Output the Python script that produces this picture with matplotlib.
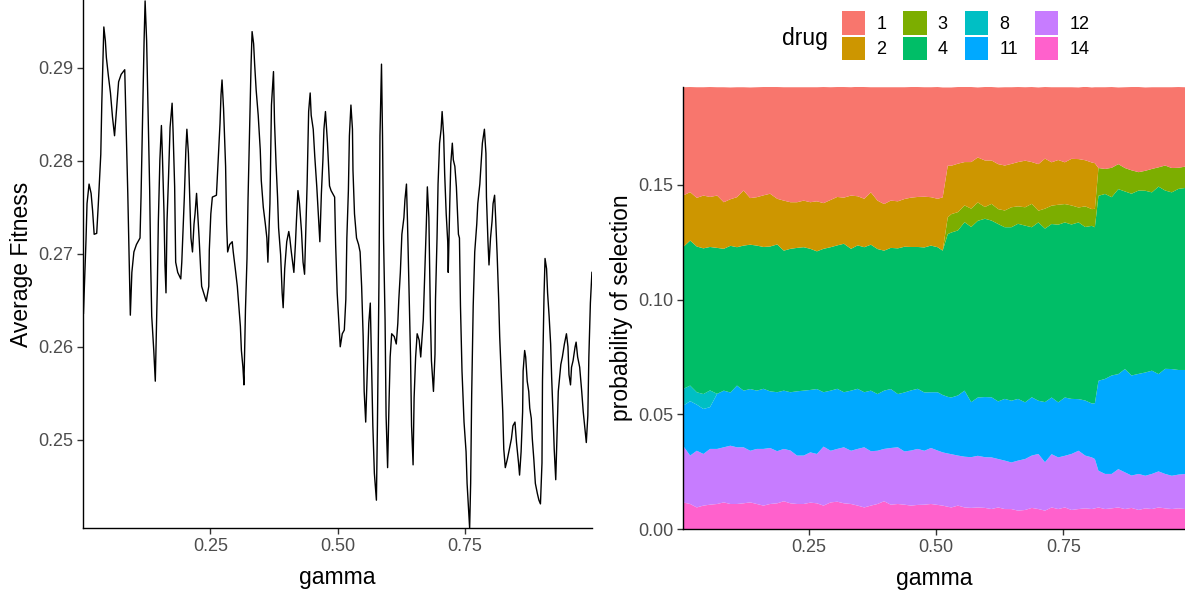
import matplotlib
matplotlib.use("Agg")
import matplotlib.pyplot as plt
from matplotlib.patches import Patch

plt.rcParams['font.family'] = ['Liberation Sans', 'DejaVu Sans']

# average fitness along gamma
gamma_fit = [
    0.001, 0.006, 0.008, 0.012, 0.016, 0.019, 0.022, 0.027, 0.030, 0.035, 0.037, 0.041, 0.044, 0.046,
    0.050, 0.054, 0.058, 0.062, 0.066, 0.070, 0.075, 0.082, 0.084, 0.088, 0.091, 0.093, 0.096, 0.100,
    0.105, 0.112, 0.114, 0.117, 0.120, 0.122, 0.125, 0.128, 0.131, 0.133, 0.135, 0.139, 0.142, 0.146,
    0.148, 0.151, 0.154, 0.156, 0.159, 0.161, 0.163, 0.165, 0.168, 0.171, 0.175, 0.177, 0.180, 0.182,
    0.186, 0.192, 0.194, 0.197, 0.199, 0.202, 0.204, 0.207, 0.210, 0.212, 0.215, 0.218, 0.220, 0.223,
    0.225, 0.228, 0.231, 0.233, 0.237, 0.242,
    0.247, 0.248, 0.251, 0.254, 0.262, 0.266, 0.269, 0.271, 0.273, 0.276, 0.280, 0.282, 0.284, 0.288,
    0.293, 0.295, 0.299, 0.303, 0.306, 0.309, 0.311, 0.314, 0.316, 0.319, 0.322, 0.324, 0.327, 0.330,
    0.332, 0.335, 0.337, 0.340, 0.344, 0.348, 0.350, 0.354, 0.358, 0.361, 0.363, 0.367, 0.370, 0.374,
    0.376, 0.379, 0.382, 0.384, 0.388, 0.391, 0.393, 0.396, 0.400, 0.404, 0.406, 0.409, 0.412, 0.414,
    0.417, 0.419, 0.422, 0.425, 0.429, 0.432, 0.435, 0.438, 0.440, 0.443, 0.446, 0.448, 0.452, 0.455,
    0.459, 0.463, 0.465, 0.468, 0.471, 0.473, 0.476, 0.480, 0.484, 0.487,
    0.494, 0.496, 0.499, 0.503, 0.505, 0.509, 0.513, 0.516, 0.518, 0.521, 0.523, 0.526, 0.529, 0.530,
    0.533, 0.537, 0.541, 0.544, 0.547, 0.550, 0.552, 0.555, 0.559, 0.561, 0.564, 0.567, 0.569, 0.572,
    0.576, 0.578, 0.581, 0.583, 0.586, 0.588, 0.590, 0.593, 0.595, 0.598, 0.601, 0.603, 0.606, 0.611,
    0.615, 0.618, 0.620, 0.623, 0.626, 0.630, 0.632, 0.635, 0.637, 0.640, 0.643, 0.645, 0.648, 0.650,
    0.653, 0.656, 0.660, 0.663, 0.666, 0.668, 0.671, 0.674, 0.676, 0.679, 0.682, 0.684, 0.688, 0.691,
    0.692, 0.695, 0.697, 0.700, 0.703, 0.705, 0.708, 0.710, 0.713, 0.716, 0.717, 0.720, 0.722, 0.725,
    0.727, 0.730, 0.733, 0.737,
    0.739, 0.741, 0.744, 0.748, 0.752, 0.754, 0.757, 0.759, 0.761, 0.763, 0.766, 0.769, 0.773, 0.775,
    0.779, 0.782, 0.784, 0.788, 0.791, 0.792, 0.795, 0.797, 0.800, 0.803, 0.805, 0.808, 0.810, 0.813,
    0.816, 0.818, 0.821, 0.824, 0.826, 0.829, 0.833, 0.837, 0.841, 0.844, 0.848, 0.851, 0.855, 0.857,
    0.860, 0.863, 0.864, 0.867, 0.869, 0.872, 0.875, 0.877, 0.880, 0.882, 0.885, 0.888, 0.892, 0.895,
    0.898, 0.901, 0.902, 0.905, 0.907, 0.910, 0.912, 0.915, 0.918, 0.920, 0.923, 0.925, 0.928, 0.931,
    0.933, 0.936, 0.938, 0.941, 0.945, 0.949, 0.952, 0.954, 0.957, 0.959, 0.962, 0.966, 0.968, 0.971,
    0.975, 0.979, 0.982, 0.986, 0.988, 0.991, 0.993, 0.996, 0.999,
]
fitness = [
    0.2636, 0.2715, 0.2754, 0.2775, 0.2765, 0.2746, 0.2721, 0.2722, 0.2752, 0.2807, 0.2862, 0.2944, 0.2929, 0.2911,
    0.2891, 0.2873, 0.2847, 0.2827, 0.2856, 0.2885, 0.2893, 0.2898, 0.2853, 0.2765, 0.2688, 0.2634, 0.2680, 0.2702,
    0.2710, 0.2717, 0.2761, 0.2845, 0.2929, 0.2972, 0.2929, 0.2849, 0.2768, 0.2688, 0.2633, 0.2596, 0.2563, 0.2665,
    0.2735, 0.2801, 0.2838, 0.2805, 0.2746, 0.2688, 0.2658, 0.2735, 0.2783, 0.2836, 0.2862, 0.2830, 0.2772, 0.2691,
    0.2680, 0.2673, 0.2691, 0.2732, 0.2761, 0.2812, 0.2834, 0.2808, 0.2754, 0.2717, 0.2702, 0.2732, 0.2743, 0.2765,
    0.2746, 0.2717, 0.2684, 0.2665, 0.2658, 0.2649,
    0.2665, 0.2704, 0.2743, 0.2761, 0.2763, 0.2808, 0.2840, 0.2871, 0.2887, 0.2856, 0.2794, 0.2732, 0.2702, 0.2710,
    0.2713, 0.2702, 0.2684, 0.2665, 0.2644, 0.2622, 0.2596, 0.2578, 0.2559, 0.2640, 0.2695, 0.2758, 0.2830, 0.2904,
    0.2939, 0.2926, 0.2904, 0.2876, 0.2849, 0.2812, 0.2779, 0.2750, 0.2732, 0.2717, 0.2691, 0.2754, 0.2860, 0.2896,
    0.2842, 0.2797, 0.2761, 0.2728, 0.2699, 0.2658, 0.2642, 0.2684, 0.2713, 0.2724, 0.2717, 0.2702, 0.2689, 0.2680,
    0.2710, 0.2735, 0.2768, 0.2754, 0.2724, 0.2691, 0.2678, 0.2735, 0.2775, 0.2853, 0.2873, 0.2849, 0.2834, 0.2805,
    0.2772, 0.2732, 0.2713, 0.2765, 0.2801, 0.2834, 0.2853, 0.2819, 0.2773, 0.2768,
    0.2761, 0.2710, 0.2658, 0.2618, 0.2600, 0.2614, 0.2618, 0.2651, 0.2717, 0.2768, 0.2827, 0.2860, 0.2834, 0.2790,
    0.2743, 0.2717, 0.2710, 0.2702, 0.2665, 0.2611, 0.2552, 0.2519, 0.2589, 0.2625, 0.2647, 0.2570, 0.2515, 0.2464,
    0.2435, 0.2515, 0.2669, 0.2827, 0.2904, 0.2827, 0.2717, 0.2629, 0.2526, 0.2470, 0.2545, 0.2589, 0.2614, 0.2611,
    0.2603, 0.2625, 0.2651, 0.2680, 0.2721, 0.2739, 0.2758, 0.2775, 0.2735, 0.2662, 0.2589, 0.2515, 0.2473, 0.2545,
    0.2589, 0.2614, 0.2607, 0.2589, 0.2614, 0.2629, 0.2680, 0.2732, 0.2772, 0.2739, 0.2633, 0.2585, 0.2552, 0.2592,
    0.2651, 0.2717, 0.2775, 0.2819, 0.2834, 0.2853, 0.2827, 0.2786, 0.2743, 0.2713, 0.2680, 0.2754, 0.2797, 0.2819,
    0.2801, 0.2794, 0.2772, 0.2721,
    0.2717, 0.2644, 0.2574, 0.2519, 0.2487, 0.2453, 0.2424, 0.2405, 0.2453, 0.2548, 0.2644, 0.2702, 0.2732, 0.2754,
    0.2775, 0.2801, 0.2819, 0.2834, 0.2808, 0.2761, 0.2713, 0.2688, 0.2717, 0.2735, 0.2754, 0.2763, 0.2739, 0.2699,
    0.2651, 0.2611, 0.2570, 0.2530, 0.2490, 0.2470, 0.2479, 0.2490, 0.2501, 0.2515, 0.2519, 0.2497, 0.2475, 0.2462,
    0.2487, 0.2530, 0.2574, 0.2596, 0.2589, 0.2563, 0.2552, 0.2534, 0.2523, 0.2501, 0.2479, 0.2453, 0.2442, 0.2435,
    0.2431, 0.2475, 0.2563, 0.2655, 0.2695, 0.2684, 0.2658, 0.2633, 0.2603, 0.2567, 0.2523, 0.2490, 0.2457, 0.2515,
    0.2552, 0.2570, 0.2581, 0.2589, 0.2603, 0.2614, 0.2600, 0.2570, 0.2559, 0.2578, 0.2585, 0.2600, 0.2605, 0.2589,
    0.2578, 0.2552, 0.2530, 0.2508, 0.2497, 0.2526, 0.2589, 0.2647, 0.2680,
]

# probability of selection per drug
gamma_sel = [
    0.003, 0.017, 0.030, 0.043, 0.056, 0.070, 0.083, 0.096, 0.109, 0.122, 0.135, 0.148, 0.161,
    0.174, 0.188, 0.201, 0.214, 0.227, 0.240, 0.253, 0.266, 0.279, 0.293, 0.306, 0.319,
    0.333, 0.346, 0.359, 0.372, 0.385, 0.398, 0.411, 0.425, 0.438, 0.451, 0.464, 0.477, 0.490,
    0.503, 0.513, 0.523, 0.530, 0.543, 0.556, 0.569, 0.582, 0.596, 0.609, 0.622, 0.635,
    0.648, 0.661, 0.675, 0.688, 0.701, 0.714, 0.727, 0.740, 0.753, 0.766, 0.780, 0.793, 0.806,
    0.812, 0.819, 0.832, 0.845, 0.858, 0.871, 0.884, 0.898, 0.911, 0.924, 0.937, 0.950, 0.963,
    0.976, 0.989,
]
drug_1 = [
    0.0472, 0.0458, 0.0482, 0.0472, 0.0479, 0.0472, 0.0501, 0.0487, 0.0479, 0.0450, 0.0482, 0.0479, 0.0472,
    0.0465, 0.0487, 0.0494, 0.0501, 0.0501, 0.0494, 0.0501, 0.0497, 0.0506, 0.0491, 0.0479, 0.0482,
    0.0472, 0.0477, 0.0487, 0.0458, 0.0494, 0.0509, 0.0494, 0.0497, 0.0487, 0.0482, 0.0479, 0.0477, 0.0479,
    0.0487, 0.0479, 0.0341, 0.0341, 0.0334, 0.0327, 0.0327, 0.0305, 0.0320, 0.0320, 0.0334, 0.0341,
    0.0334, 0.0327, 0.0320, 0.0327, 0.0334, 0.0312, 0.0327, 0.0317, 0.0327, 0.0312, 0.0312, 0.0320, 0.0327,
    0.0331, 0.0352, 0.0356, 0.0352, 0.0334, 0.0352, 0.0363, 0.0371, 0.0363, 0.0356, 0.0349, 0.0341, 0.0352,
    0.0352, 0.0346,
]
drug_2 = [
    0.0225, 0.0211, 0.0212, 0.0230, 0.0218, 0.0228, 0.0203, 0.0203, 0.0218, 0.0240, 0.0203, 0.0211, 0.0225,
    0.0230, 0.0199, 0.0218, 0.0203, 0.0199, 0.0203, 0.0203, 0.0218, 0.0199, 0.0206, 0.0211, 0.0201,
    0.0232, 0.0214, 0.0211, 0.0228, 0.0211, 0.0203, 0.0206, 0.0205, 0.0208, 0.0215, 0.0218, 0.0221, 0.0211,
    0.0211, 0.0232, 0.0225, 0.0211, 0.0211, 0.0189, 0.0203, 0.0196, 0.0203, 0.0189, 0.0196, 0.0196,
    0.0189, 0.0193, 0.0203, 0.0182, 0.0203, 0.0218, 0.0189, 0.0195, 0.0182, 0.0203, 0.0211, 0.0201, 0.0203,
    0.0199, 0.0, 0.0, 0.0, 0.0, 0.0, 0.0, 0.0, 0.0, 0.0, 0.0, 0.0, 0.0,
    0.0, 0.0,
]
drug_3 = [
    0.0, 0.0, 0.0, 0.0, 0.0, 0.0, 0.0, 0.0, 0.0, 0.0, 0.0, 0.0, 0.0,
    0.0, 0.0, 0.0, 0.0, 0.0, 0.0, 0.0, 0.0, 0.0, 0.0, 0.0, 0.0,
    0.0, 0.0, 0.0, 0.0, 0.0, 0.0, 0.0, 0.0, 0.0, 0.0, 0.0, 0.0, 0.0,
    0.0, 0.0, 0.0073, 0.0080, 0.0080, 0.0073, 0.0080, 0.0080, 0.0051, 0.0073, 0.0065, 0.0073,
    0.0087, 0.0076, 0.0080, 0.0102, 0.0051, 0.0087, 0.0080, 0.0087, 0.0080, 0.0083, 0.0065, 0.0090, 0.0073,
    0.0080, 0.0121, 0.0109, 0.0128, 0.0109, 0.0102, 0.0102, 0.0080, 0.0087, 0.0102, 0.0084, 0.0109, 0.0106,
    0.0092, 0.0093,
]
drug_4 = [
    0.0618, 0.0632, 0.0635, 0.0635, 0.0625, 0.0636, 0.0618, 0.0639, 0.0603, 0.0632, 0.0629, 0.0632, 0.0618,
    0.0631, 0.0644, 0.0610, 0.0625, 0.0625, 0.0625, 0.0615, 0.0600, 0.0625, 0.0625, 0.0625, 0.0647,
    0.0618, 0.0625, 0.0632, 0.0636, 0.0632, 0.0610, 0.0615, 0.0635, 0.0635, 0.0625, 0.0618, 0.0632, 0.0639,
    0.0632, 0.0629, 0.0709, 0.0719, 0.0719, 0.0734, 0.0763, 0.0770, 0.0777, 0.0770, 0.0773, 0.0748,
    0.0756, 0.0763, 0.0770, 0.0741, 0.0777, 0.0756, 0.0756, 0.0774, 0.0763, 0.0760, 0.0770, 0.0756, 0.0774,
    0.0767, 0.0806, 0.0806, 0.0777, 0.0806, 0.0774, 0.0792, 0.0799, 0.0792, 0.0777, 0.0817, 0.0777, 0.0770,
    0.0789, 0.0793,
]
drug_8 = [
    0.0073, 0.0068, 0.0054, 0.0065, 0.0073, 0.0, 0.0, 0.0, 0.0, 0.0, 0.0, 0.0, 0.0,
    0.0, 0.0, 0.0, 0.0, 0.0, 0.0, 0.0, 0.0, 0.0, 0.0, 0.0, 0.0,
    0.0, 0.0, 0.0, 0.0, 0.0, 0.0, 0.0, 0.0, 0.0, 0.0, 0.0, 0.0, 0.0,
    0.0, 0.0, 0.0, 0.0, 0.0, 0.0, 0.0, 0.0, 0.0, 0.0, 0.0, 0.0,
    0.0, 0.0, 0.0, 0.0, 0.0, 0.0, 0.0, 0.0, 0.0, 0.0, 0.0, 0.0, 0.0,
    0.0, 0.0, 0.0, 0.0, 0.0, 0.0, 0.0, 0.0, 0.0, 0.0, 0.0, 0.0, 0.0,
    0.0, 0.0,
]
drug_11 = [
    0.0174, 0.0237, 0.0201, 0.0196, 0.0182, 0.0240, 0.0247, 0.0232, 0.0269, 0.0247, 0.0269, 0.0254, 0.0262,
    0.0247, 0.0257, 0.0254, 0.0254, 0.0280, 0.0283, 0.0272, 0.0283, 0.0237, 0.0262, 0.0262, 0.0240,
    0.0262, 0.0262, 0.0240, 0.0264, 0.0247, 0.0254, 0.0257, 0.0232, 0.0257, 0.0262, 0.0262, 0.0254, 0.0243,
    0.0254, 0.0250, 0.0247, 0.0247, 0.0262, 0.0288, 0.0240, 0.0254, 0.0262, 0.0262, 0.0251, 0.0269,
    0.0269, 0.0269, 0.0247, 0.0254, 0.0232, 0.0262, 0.0247, 0.0240, 0.0254, 0.0240, 0.0225, 0.0240, 0.0235,
    0.0243, 0.0392, 0.0414, 0.0429, 0.0414, 0.0450, 0.0436, 0.0436, 0.0450, 0.0450, 0.0424, 0.0458, 0.0465,
    0.0456, 0.0453,
]
drug_12 = [
    0.0247, 0.0211, 0.0247, 0.0225, 0.0243, 0.0240, 0.0240, 0.0254, 0.0247, 0.0244, 0.0225, 0.0240, 0.0247,
    0.0244, 0.0227, 0.0228, 0.0230, 0.0211, 0.0211, 0.0219, 0.0215, 0.0257, 0.0225, 0.0230, 0.0244,
    0.0232, 0.0247, 0.0262, 0.0237, 0.0232, 0.0228, 0.0247, 0.0247, 0.0232, 0.0240, 0.0244, 0.0235, 0.0244,
    0.0237, 0.0232, 0.0232, 0.0232, 0.0218, 0.0221, 0.0221, 0.0225, 0.0221, 0.0225, 0.0211, 0.0211,
    0.0203, 0.0218, 0.0222, 0.0228, 0.0240, 0.0211, 0.0232, 0.0225, 0.0225, 0.0244, 0.0254, 0.0230, 0.0225,
    0.0215, 0.0160, 0.0153, 0.0150, 0.0167, 0.0160, 0.0141, 0.0157, 0.0142, 0.0153, 0.0157, 0.0150, 0.0145,
    0.0147, 0.0153,
]
drug_14 = [
    0.0116, 0.0109, 0.0094, 0.0102, 0.0106, 0.0109, 0.0116, 0.0109, 0.0109, 0.0112, 0.0116, 0.0109, 0.0102,
    0.0109, 0.0112, 0.0121, 0.0112, 0.0109, 0.0109, 0.0115, 0.0112, 0.0102, 0.0116, 0.0119, 0.0112,
    0.0109, 0.0102, 0.0094, 0.0102, 0.0109, 0.0121, 0.0106, 0.0109, 0.0106, 0.0102, 0.0105, 0.0106, 0.0109,
    0.0105, 0.0102, 0.0097, 0.0094, 0.0102, 0.0094, 0.0092, 0.0094, 0.0092, 0.0087, 0.0094, 0.0087,
    0.0087, 0.0080, 0.0083, 0.0092, 0.0087, 0.0080, 0.0094, 0.0087, 0.0094, 0.0083, 0.0087, 0.0090, 0.0087,
    0.0090, 0.0094, 0.0087, 0.0090, 0.0094, 0.0087, 0.0092, 0.0083, 0.0090, 0.0087, 0.0094, 0.0090, 0.0087,
    0.0090, 0.0087,
]

drugs = ['1', '2', '3', '4', '8', '11', '12', '14']
drug_values = [drug_1, drug_2, drug_3, drug_4, drug_8, drug_11, drug_12, drug_14]
drug_colors = ['#F8766D', '#CD9600', '#7CAE00', '#00BE67', '#00BFC4', '#00A9FF', '#C77CFF', '#FF61CC']

TICK_SIZE = 13
TITLE_SIZE = 16.5
TICK_COLOR = '#4D4D4D'


def style_axes(ax):
    for side in ('top', 'right'):
        ax.spines[side].set_visible(False)
    for side in ('left', 'bottom'):
        ax.spines[side].set_linewidth(1.0)
        ax.spines[side].set_color('black')
    ax.tick_params(axis='both', which='major', length=4, width=1.0, color='#333333',
                   labelsize=TICK_SIZE, labelcolor=TICK_COLOR, pad=3)


fig = plt.figure(figsize=(11.85, 5.92), dpi=100)

# left: average fitness
ax1 = fig.add_axes([0.070, 0.108, 0.4295, 0.892])
ax1.plot(gamma_fit, fitness, color='black', lw=1.0)
ax1.set_xlim(0.0, 0.999)
ax1.set_ylim(0.2405, 0.2973)
ax1.set_xticks([0.25, 0.50, 0.75])
ax1.set_xticklabels(['0.25', '0.50', '0.75'])
ax1.set_yticks([0.25, 0.26, 0.27, 0.28, 0.29])
ax1.set_yticklabels(['0.25', '0.26', '0.27', '0.28', '0.29'])
ax1.set_xlabel('gamma', fontsize=TITLE_SIZE, labelpad=8)
ax1.set_ylabel('Average Fitness', fontsize=TITLE_SIZE, labelpad=4)
style_axes(ax1)

# right: stacked selection probabilities, first drug on top
ax2 = fig.add_axes([0.5764, 0.1064, 0.4236, 0.7466])
ax2.stackplot(gamma_sel, drug_values[::-1], colors=drug_colors[::-1], lw=0)
ax2.set_xlim(gamma_sel[0], gamma_sel[-1])
ax2.set_ylim(0, 0.1926)
ax2.set_xticks([0.25, 0.50, 0.75])
ax2.set_xticklabels(['0.25', '0.50', '0.75'])
ax2.set_yticks([0.00, 0.05, 0.10, 0.15])
ax2.set_yticklabels(['0.00', '0.05', '0.10', '0.15'])
ax2.set_xlabel('gamma', fontsize=TITLE_SIZE, labelpad=8)
ax2.set_ylabel('probability of selection', fontsize=TITLE_SIZE, labelpad=4)
style_axes(ax2)

handles = [Patch(facecolor=c, edgecolor='none') for c in drug_colors]
fig.legend(handles, drugs, ncol=4, loc='upper left', bbox_to_anchor=(842 / 1185, 1 - 11 / 592),
           frameon=False, fontsize=TICK_SIZE, handlelength=1.3, handleheight=1.63,
           handletextpad=0.6, columnspacing=0.95, labelspacing=0.12, borderpad=0, borderaxespad=0)
fig.text(782 / 1185, 1 - 38 / 592, 'drug', fontsize=TITLE_SIZE, ha='left', va='center')

fig.savefig('out.png', dpi=100)
